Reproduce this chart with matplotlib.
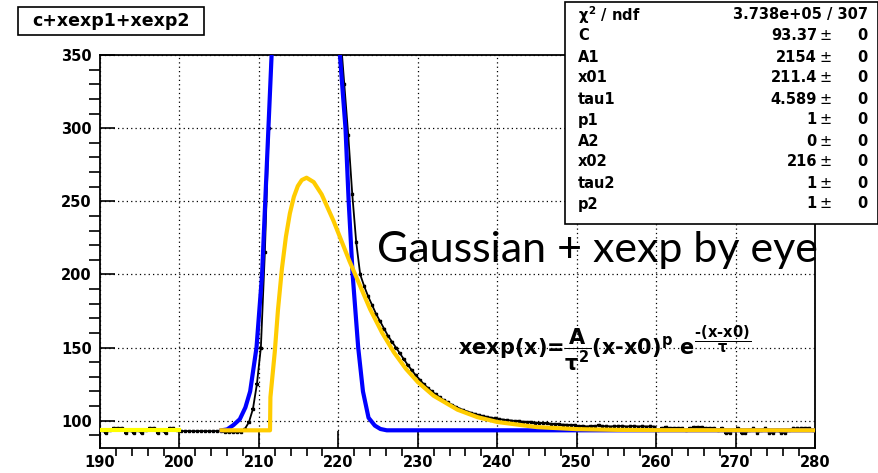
import numpy as np
import matplotlib
matplotlib.use("Agg")
import matplotlib.pyplot as plt
from matplotlib.patches import Rectangle

# ---- data ----
# black histogram, bins of 0.5 starting at 190
hist_vals = [
    93.4, 91.6, 93.4, 94.8, 94.8, 94.8, 91.6, 93.4, 91.6, 93.4,
    91.6, 93.4, 94.8, 94.8, 91.6, 93.4, 91.6, 94.8, 94.8, 93.4,
    92.8, 93.0, 92.8, 92.9, 92.8, 93.0, 92.8, 92.9, 92.8, 93.0, 92.8,
    92.0, 92.0, 92.3, 92.0, 92.5,
    94.5, 99, 108, 125, 150, 215, 300, 390,
    520, 680, 830, 950, 1030, 1070, 1080, 1060, 1010, 940, 850, 750, 650, 560, 480, 415,
    365, 330, 295, 255, 222, 200, 192, 185, 179, 173,
    168, 163, 158, 154, 150, 146, 142, 138, 134.5, 131,
    128, 125, 122.5, 120, 118, 116, 114, 112.5, 111, 109.5,
    108.3, 107.2, 106.2, 105.3, 104.5, 103.8, 103.1, 102.5, 102, 101.5,
    101.1, 100.7, 100.4, 100.1, 99.8, 99.5, 99.3, 99.1, 98.9, 98.7,
    98.5, 98.3, 98.1, 97.9, 97.7, 97.5, 97.3, 97.2, 97.0, 96.9,
    96.2, 96.5, 96.0, 96.3, 96.2, 96.8, 96.1, 96.4, 96.0, 96.3,
    96.2, 96.5, 96.0, 96.2, 96.4, 96.0, 96.3, 96.0, 96.1, 96.0,
    93.4, 94.8, 95.5, 94.8, 94.8, 94.8, 94.8, 93.4, 94.8, 95.5,
    95.5, 95.5, 94.8, 94.8, 94.8, 93.4, 94.8, 91.6, 91.6, 93.4,
    94.8, 91.6, 91.6, 93.4, 94.8, 91.6, 93.4, 94.8, 91.6, 91.6,
    93.4, 91.6, 91.6, 93.4, 94.8, 94.8, 94.8, 94.8, 94.8, 93.4,
]
hist_start = 190.0
hist_width = 0.5

# constant fit (bright yellow), 190-200
const_x = [190, 200]
const_y = [93.4, 93.4]

# gaussian by eye (blue)
gaus_x = [205.3, 206.0, 206.8, 207.6, 208.3, 208.9, 209.7, 210.4, 210.8, 211.2, 211.6,
          212.5, 216.0, 219.4, 220.2, 220.9, 221.3, 221.8, 222.5, 223.1, 223.8,
          224.6, 225.3, 226.1, 280.0]
gaus_y = [93.4, 94.0, 97.0, 101, 109, 120, 150, 200, 250, 300, 350,
          500, 700, 500, 350, 300, 250, 200, 150, 120, 102,
          96.6, 94.3, 93.4, 93.4]

# xexp by eye (orange)
xexp_x = [205.3, 211.4, 211.45, 212.0, 212.4, 212.9, 213.4, 213.9, 214.4, 214.9, 215.4,
          216.0, 216.9, 217.9, 219.4, 221.4, 224.0, 225.5, 227.0, 228.5, 230.0,
          232.0, 235.0, 237.5, 240.0, 245.0, 250.0, 255.0, 260.0, 280.0]
xexp_y = [93.4, 93.4, 116, 147, 175.6, 204, 225.7, 241.7, 253, 260.4, 264.5,
          266.1, 263.1, 254.7, 236.5, 209.1, 176.2, 160.2, 146.7, 135.5, 126.4,
          117, 107.5, 102.4, 99.1, 95.6, 94.2, 93.7, 93.5, 93.4]

stat_names = [r"$\chi^{2}$ / ndf", "C", "A1", "x01", "tau1", "p1", "A2", "x02", "tau2", "p2"]
stat_vals = ["3.738e+05 / 307", "93.37", "2154", "211.4", "4.589", "1", "0", "216", "1", "1"]

W, H = 879, 473
plt.rcParams["font.family"] = "DejaVu Sans"
plt.rcParams["font.weight"] = "bold"
plt.rcParams["mathtext.fontset"] = "custom"
plt.rcParams["mathtext.rm"] = "DejaVu Sans:bold"
plt.rcParams["mathtext.it"] = "DejaVu Sans:bold"
plt.rcParams["mathtext.bf"] = "DejaVu Sans:bold"

fig = plt.figure(figsize=(W / 100, H / 100), dpi=100)


def fx(x):
    return x / W


def fy(y):
    return 1 - y / H


ax = fig.add_axes([fx(100), fy(448.3), fx(815) - fx(100), fy(55) - fy(448.3)])

centers = hist_start + hist_width * (np.arange(len(hist_vals)) + 0.5)
ax.hlines(hist_vals, centers - 0.4 * hist_width, centers + 0.4 * hist_width,
          color="black", lw=1.6, zorder=2)
ax.plot(centers, hist_vals, color="black", lw=1.3, zorder=2)
ax.plot(centers, hist_vals, "s", color="black", ms=1.6, zorder=2)
ax.plot(const_x, const_y, color="#ffff00", lw=3, zorder=3)
ax.plot(gaus_x, gaus_y, color="#0000ff", lw=3, zorder=4)
ax.plot(xexp_x, xexp_y, color="#ffcc00", lw=3, zorder=5)

ax.set_xlim(190, 280)
ax.set_ylim(81.1, 350)
ax.set_xticks(np.arange(190, 281, 10))
ax.set_xticks(np.arange(190, 281, 2), minor=True)
ax.set_yticks(np.arange(100, 351, 50))
ax.set_yticks(np.arange(90, 351, 10), minor=True)
ax.tick_params(axis="both", direction="in", labelsize=10.5, width=1.2, color="black")
ax.tick_params(axis="x", which="major", length=12, pad=5)
ax.tick_params(axis="x", which="minor", length=6, width=1.2)
ax.tick_params(axis="y", which="major", length=11, pad=6)
ax.tick_params(axis="y", which="minor", length=8, width=1.2)
for lab in ax.get_xticklabels() + ax.get_yticklabels():
    lab.set_fontweight("bold")
ax.grid(True, which="major", color="black", ls=(0, (1, 2.5)), lw=0.9)
for sp in ax.spines.values():
    sp.set_linewidth(1.3)

# title box
fig.add_artist(Rectangle((fx(18), fy(35)), fx(204) - fx(18), fy(7) - fy(35),
                         transform=fig.transFigure, facecolor="white",
                         edgecolor="black", lw=1.2))
fig.text(fx(111), fy(21), "c+xexp1+xexp2", fontsize=12.5, fontweight="bold",
         ha="center", va="center")

# stats box
fig.add_artist(Rectangle((fx(565), fy(224)), fx(878) - fx(565), fy(2) - fy(224),
                         transform=fig.transFigure, facecolor="white",
                         edgecolor="black", lw=1.2, zorder=10))
for i, (nm, val) in enumerate(zip(stat_names, stat_vals)):
    yy = fy(15 + 21 * i)
    fig.text(fx(578), yy, nm, fontsize=10.5, fontweight="bold", va="center", zorder=11)
    if i == 0:
        fig.text(fx(868), yy, val, fontsize=10.5, fontweight="bold",
                 ha="right", va="center", zorder=11)
    else:
        fig.text(fx(817), yy, val, fontsize=10.5, fontweight="bold",
                 ha="right", va="center", zorder=11)
        fig.text(fx(826), yy, "\u00b1", fontsize=10.5, fontweight="normal",
                 ha="center", va="center", zorder=11)
        fig.text(fx(868), yy, "0", fontsize=10.5, fontweight="bold",
                 ha="right", va="center", zorder=11)

# annotations
fig.text(fx(377), fy(262), "Gaussian + xexp by eye", fontsize=31, fontfamily="Lato",
         fontweight="normal", ha="left", va="baseline")
fig.text(fx(458), fy(355),
         r"$\text{xexp(x)=}\dfrac{A}{\tau^{2}}\text{(x-x0)}^{p}\ e^{\dfrac{\text{-(x-x0)}}{\tau}}$",
         fontsize=15, ha="left", va="baseline")

fig.savefig("out.png", dpi=100)
